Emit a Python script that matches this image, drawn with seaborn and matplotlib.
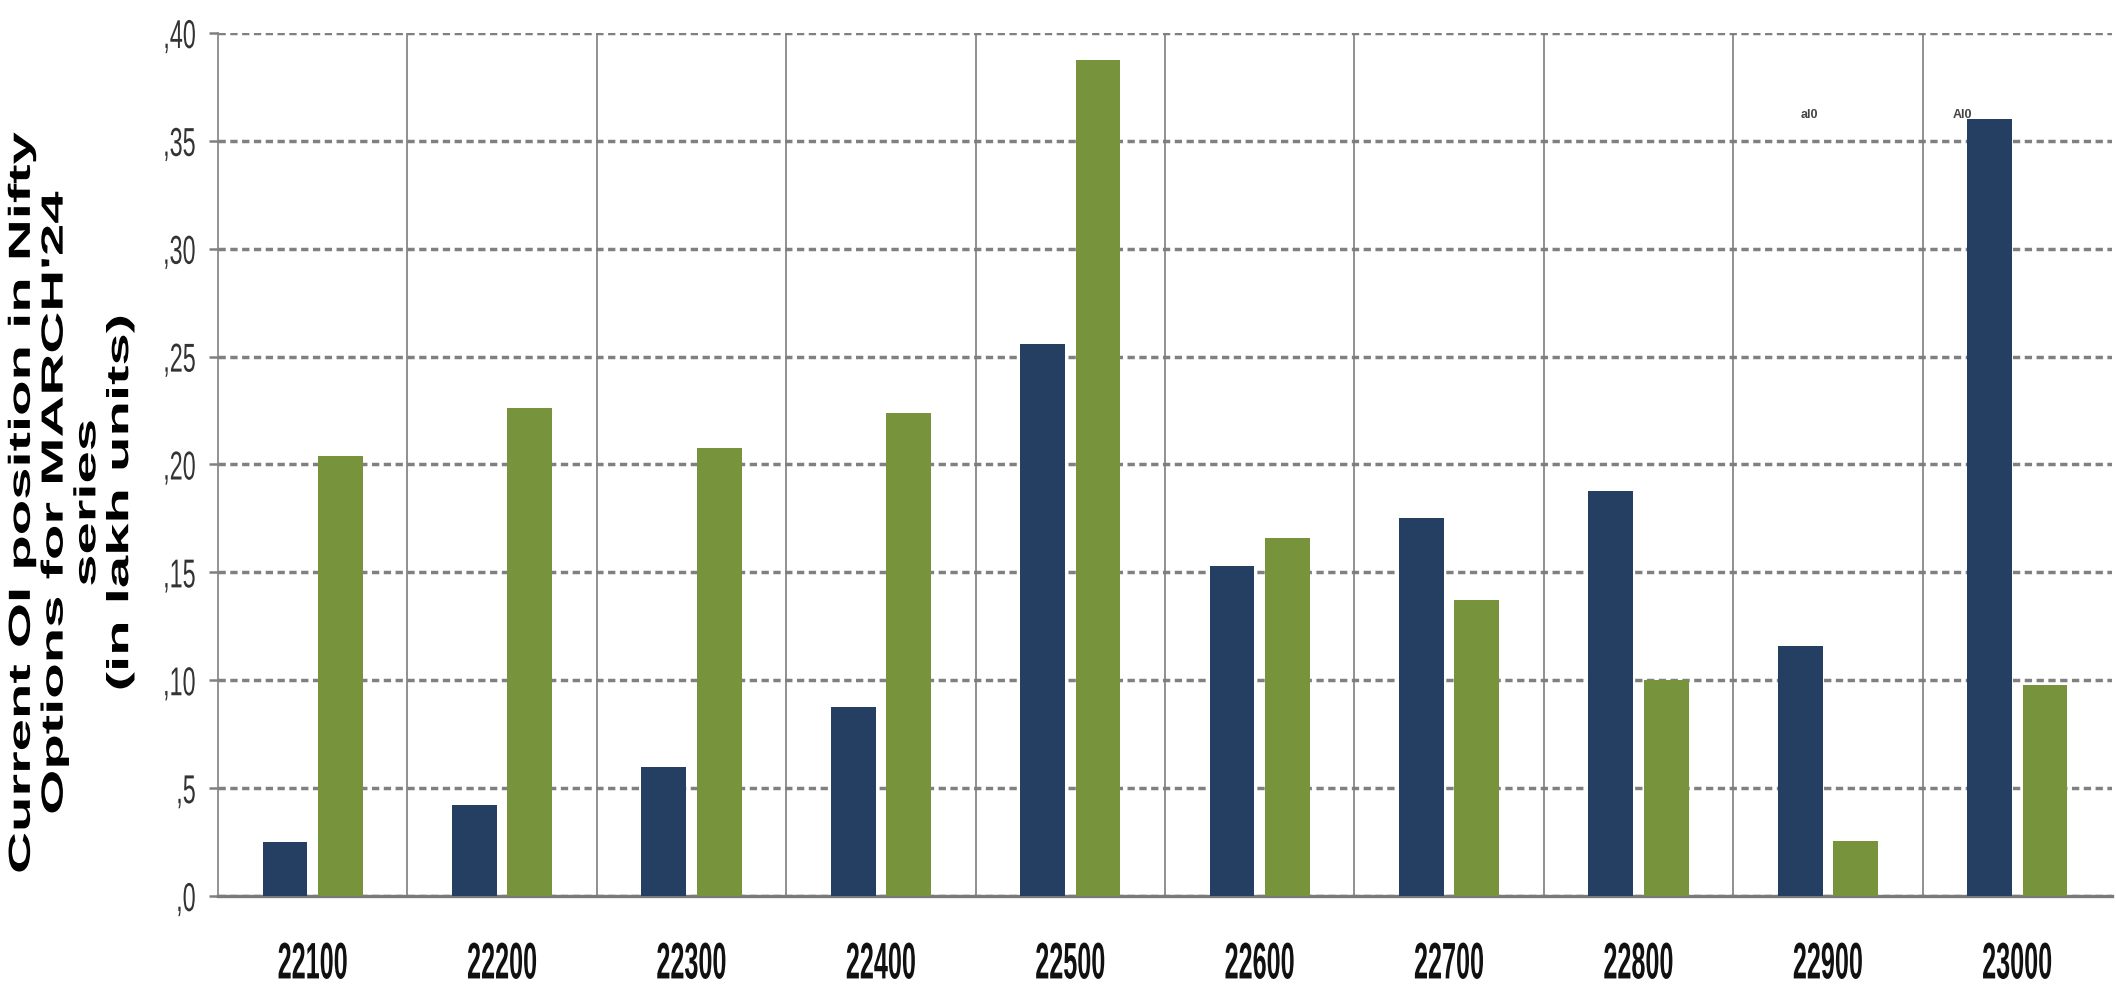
import matplotlib
matplotlib.use("Agg")
import matplotlib.pyplot as plt
import seaborn as sns
import pandas as pd
from matplotlib.patheffects import AbstractPathEffect
from matplotlib.transforms import Affine2D

strikes = ["22100", "22200", "22300", "22400", "22500", "22600", "22700", "22800", "22900", "23000"]
call_oi = [2.5, 4.2, 6.0, 8.75, 25.6, 15.3, 17.5, 18.75, 11.6, 36.0]
put_oi = [20.4, 22.6, 20.75, 22.4, 38.75, 16.6, 13.7, 10.0, 2.55, 9.8]
series_names = ["Call", "Put"]
ytick_vals = [0, 5, 10, 15, 20, 25, 30, 35, 40]
ytick_labels = [",0", ",5", ",10", ",15", ",20", ",25", ",30", ",35", ",40"]
colors = ["#243F62", "#77933C"]


class Stretch(AbstractPathEffect):
    """Scale each text line along its own direction (the reference text is condensed/expanded)."""

    def __init__(self, sx=1.0, anchor="center"):
        super().__init__()
        self.sx = sx
        self.anchor = anchor

    def draw_path(self, renderer, gc, tpath, affine, rgbFace=None):
        ext = tpath.get_extents()
        if self.anchor == "right":
            cx = ext.x1
        else:
            cx = (ext.x0 + ext.x1) / 2
        t = Affine2D().translate(-cx, 0).scale(self.sx, 1.0).translate(cx, 0) + affine
        renderer.draw_path(gc, tpath, t, rgbFace)


df = pd.DataFrame({
    "strike": strikes * 2,
    "oi": call_oi + put_oi,
    "series": [series_names[0]] * len(strikes) + [series_names[1]] * len(strikes),
})

sns.set_style("white")
arial = ["Liberation Sans", "DejaVu Sans"]

fig = plt.figure(figsize=(21.16, 10.02), dpi=100)
ax = fig.add_axes([218 / 2116, 1 - 896 / 1002, (2112 - 218) / 2116, (896 - 33) / 1002])

sns.barplot(data=df, x="strike", y="oi", hue="series", order=strikes,
            palette=colors, width=0.585, gap=0.19, ax=ax, legend=False,
            saturation=1, edgecolor="none", linewidth=0, zorder=3)

ax.set_xlim(-0.5, len(strikes) - 0.5)
ax.set_ylim(0, 40)
ax.set_xlabel("")
ax.set_ylabel("")

# horizontal dashed gridlines
ax.yaxis.grid(True, color="#808080", linewidth=2.5, linestyle=(0, (2.1, 1.3)), zorder=1)
ax.xaxis.grid(False)
# vertical separators between categories
for i in range(1, len(strikes)):
    ax.axvline(i - 0.5, color="#7d7d7d", linewidth=1.2, zorder=1)

ax.set_yticks(ytick_vals)
ax.set_yticklabels(ytick_labels, fontfamily=arial, fontsize=29, color="#333333")
ax.tick_params(axis="y", length=6.5, width=1.8, color="#808080", pad=9, left=True)
ax.tick_params(axis="x", length=0, pad=32)
for lbl in ax.get_yticklabels():
    lbl.set_path_effects([Stretch(0.58, anchor="right")])
for lbl in ax.get_xticklabels():
    lbl.set_fontfamily(arial)
    lbl.set_fontsize(37)
    lbl.set_fontweight("bold")
    lbl.set_color("#111111")
    lbl.set_path_effects([Stretch(0.49)])

for side in ["top", "right"]:
    ax.spines[side].set_visible(False)
ax.spines["left"].set_color("#808080")
ax.spines["left"].set_linewidth(1.2)
ax.spines["bottom"].set_color("#7a7a7a")
ax.spines["bottom"].set_linewidth(2.4)

# small stray labels
ax.text(7.9, 36.2, "al0", fontsize=9, color="#444444", ha="center", va="center", fontweight="bold",
        fontfamily=arial)
ax.text(8.71, 36.2, "Al0", fontsize=9, color="#444444", ha="center", va="center", fontweight="bold",
        fontfamily=arial)

ylab = fig.text(71 / 2116, 1 - 503 / 1002,
                "Current OI position in Nifty\nOptions for MARCH'24\nseries\n(in lakh units)",
                rotation=90, ha="center", va="center", multialignment="center",
                fontsize=22, fontweight="bold", fontfamily=arial, linespacing=1.12,
                color="#000000")
ylab.set_path_effects([Stretch(1.9)])

fig.savefig("out.png", dpi=100, facecolor="white")
